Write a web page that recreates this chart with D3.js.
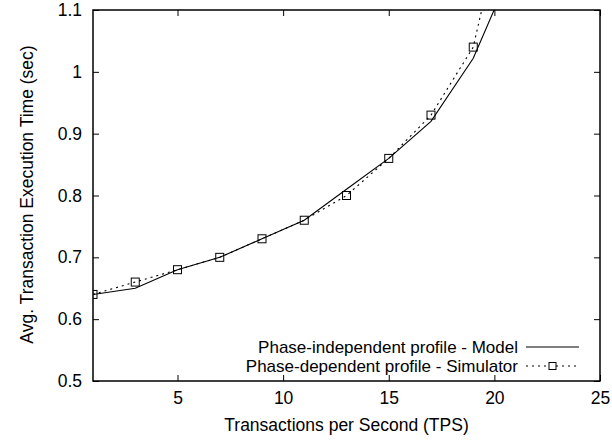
<!DOCTYPE html>
<html>
<head>
<meta charset="utf-8">
<script src="https://cdn.jsdelivr.net/npm/d3@7"></script>
<style>
  body { margin: 0; background: #fff; }
  text { font-family: "Liberation Sans", Arial, sans-serif; fill: #000; }
</style>
</head>
<body>
<div id="chart"></div>
<script>
// data
var tps = [1, 3, 5, 7, 9, 11, 13, 15, 17, 19, 21];
var modelTime = [0.64, 0.65, 0.68, 0.70, 0.73, 0.76, 0.81, 0.86, 0.92, 1.022, 1.18];
var simTime = [0.64, 0.66, 0.68, 0.70, 0.73, 0.76, 0.80, 0.86, 0.93, 1.04, 1.34];
var xTicks = [5, 10, 15, 20, 25];
var yTicks = [0.5, 0.6, 0.7, 0.8, 0.9, 1, 1.1];
var legendLabels = ["Phase-independent profile - Model", "Phase-dependent profile - Simulator"];

var W = 612, H = 443;
var margin = {top: 10, right: 12, bottom: 62, left: 93};
var width = W - margin.left - margin.right,
    height = H - margin.top - margin.bottom;
var fs = "17.5px";

var svg = d3.select("#chart").append("svg")
    .attr("width", W).attr("height", H);

var g = svg.append("g")
    .attr("transform", "translate(" + margin.left + "," + margin.top + ")");

var x = d3.scaleLinear().domain([1, 25]).range([0, width]);
var y = d3.scaleLinear().domain([0.5, 1.1]).range([height, 0]);

// clip so the lines stop at the frame
g.append("clipPath").attr("id", "clip")
  .append("rect").attr("width", width).attr("height", height);

// inward ticks on all four sides (gnuplot style)
function styleAxis(sel) {
    sel.select(".domain").remove();
    sel.selectAll("text").style("font-size", fs);
}
g.append("g").attr("transform", "translate(0," + height + ")")
    .call(d3.axisBottom(x).tickValues(xTicks).tickSizeInner(-6).tickPadding(11).tickFormat(d3.format("d")))
    .call(styleAxis);
g.append("g")
    .call(d3.axisTop(x).tickValues(xTicks).tickSizeInner(-6).tickFormat(""))
    .call(styleAxis);
g.append("g")
    .call(d3.axisLeft(y).tickValues(yTicks).tickSizeInner(-6).tickPadding(11).tickFormat(function(d) { return d === 1 ? "1" : d3.format(".1f")(d); }))
    .call(styleAxis);
g.append("g").attr("transform", "translate(" + width + ",0)")
    .call(d3.axisRight(y).tickValues(yTicks).tickSizeInner(-6).tickFormat(""))
    .call(styleAxis);
g.selectAll(".tick line").attr("stroke", "#000");

var plot = g.append("g").attr("clip-path", "url(#clip)");

var line = d3.line()
    .x(function(d) { return x(d[0]); })
    .y(function(d) { return y(d[1]); });

var modelData = tps.map(function(t, i) { return [t, modelTime[i]]; });
var simData = tps.map(function(t, i) { return [t, simTime[i]]; });

plot.append("path")
    .datum(modelData)
    .attr("d", line)
    .attr("fill", "none")
    .attr("stroke", "#000")
    .attr("stroke-width", 1.1);

plot.append("path")
    .datum(simData)
    .attr("d", line)
    .attr("fill", "none")
    .attr("stroke", "#000")
    .attr("stroke-width", 1.1)
    .attr("stroke-dasharray", "2,4");

plot.selectAll(".sq")
    .data(simData)
    .enter().append("rect")
    .attr("class", "sq")
    .attr("x", function(d) { return x(d[0]) - 4; })
    .attr("y", function(d) { return y(d[1]) - 4; })
    .attr("width", 8).attr("height", 8)
    .attr("fill", "none")
    .attr("stroke", "#000")
    .attr("stroke-width", 1);

// frame
g.append("rect")
    .attr("width", width).attr("height", height)
    .attr("fill", "none")
    .attr("stroke", "#000")
    .attr("stroke-width", 1.5);

// legend
var lg = svg.append("g");
var rows = [347, 366];
legendLabels.forEach(function(lab, i) {
    lg.append("text")
        .attr("x", 518).attr("y", rows[i])
        .attr("dy", "0.35em")
        .attr("text-anchor", "end")
        .style("font-size", "17px")
        .text(lab);
    lg.append("line")
        .attr("x1", 526).attr("x2", 579)
        .attr("y1", rows[i]).attr("y2", rows[i])
        .attr("stroke", "#000").attr("stroke-width", 1)
        .attr("stroke-dasharray", i === 1 ? "2,4" : null);
});
lg.append("rect")
    .attr("x", 549).attr("y", rows[1] - 3.5)
    .attr("width", 7).attr("height", 7)
    .attr("fill", "#fff").attr("stroke", "#000");

// axis titles
svg.append("text")
    .attr("x", margin.left + width / 2).attr("y", 425)
    .attr("dy", "0.35em")
    .attr("text-anchor", "middle")
    .style("font-size", fs)
    .text("Transactions per Second (TPS)");

svg.append("text")
    .attr("transform", "translate(27," + (margin.top + height / 2 - 1) + ") rotate(-90)")
    .attr("dy", "0.35em")
    .attr("text-anchor", "middle")
    .style("font-size", fs)
    .text("Avg. Transaction Execution Time (sec)");
</script>
</body>
</html>
